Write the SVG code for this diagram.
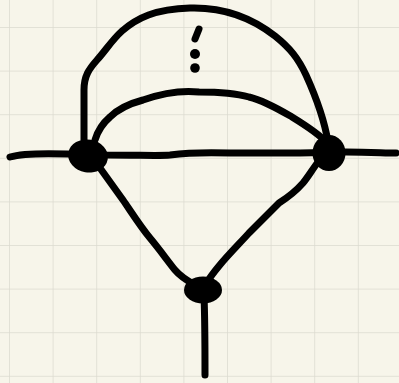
<svg xmlns="http://www.w3.org/2000/svg" width="399" height="383" viewBox="0 0 399 383">
<defs>
<pattern id="grid" x="9" y="27" width="43.6" height="43.6" patternUnits="userSpaceOnUse">
<path d="M0,0 V43.6 M0,0 H43.6" fill="none" stroke="#dcdacf" stroke-width="1.5"/>
</pattern>
<style>
.e{fill:none;stroke:#000;stroke-width:7;stroke-linecap:round;stroke-linejoin:round}
.n{fill:#000}
</style>
</defs>
<rect width="399" height="383" fill="#f7f5ea"/>
<rect width="399" height="383" fill="url(#grid)"/>
<g id="connectors">
<path class="e" d="M10,157 C20,154 35,153 67,154 L107,155 C140,155 160,156 170,155 C185,153 200,152 230,153 L300,153 L346,152 C370,152 385,153 396,153"/>
<path class="e" d="M84,140 L84,90 C84,76 89,69 97,60 C106,50 112,40 122,31 C137,18 155,9 190,8 C225,7 252,18 275,36 C290,48 298,58 306,75 C316,97 324,118 328,142"/>
<path class="e" d="M95,140 C98,130 103,123 110,117 C118,109 128,104 143,100 C160,94 180,90 199,92 C220,92 235,93 249,97 C265,101 280,110 292,117 C305,125 318,133 326,142"/>
<path class="e" d="M100,168 L123,200 C130,210 140,226 150,238 C160,250 167,260 175,270 C180,276 186,280 195,285"/>
<path class="e" d="M318,162 C312,170 308,177 303,183 C296,191 290,196 279,203 C270,212 260,222 249,233 C240,243 228,255 219,266 C214,272 210,277 206,284"/>
<path class="e" d="M204,296 C205,320 205,350 205,375"/>
</g>
<g id="node-left"><ellipse class="n" cx="88" cy="156" rx="20" ry="16.5" transform="rotate(10 88 156)"/></g>
<g id="node-right"><ellipse class="n" cx="329" cy="153" rx="16.5" ry="18"/></g>
<g id="node-bottom"><ellipse class="n" cx="203" cy="290" rx="19" ry="13.5"/></g>
<g id="dots">
<path class="e" d="M199,29 L195,39"/>
<circle class="n" cx="195" cy="54" r="5"/>
<circle class="n" cx="195" cy="68" r="4.8"/>
</g>
</svg>
